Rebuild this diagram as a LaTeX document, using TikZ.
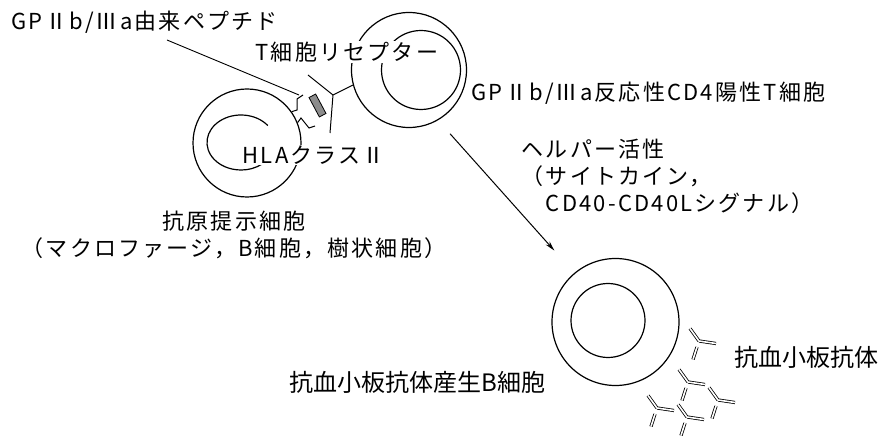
\documentclass[tikz,border=0pt]{standalone}
\usepackage{fontspec}
\setmainfont{Noto Sans CJK JP}
\newfontfamily\widejp[LetterSpace=10]{Noto Sans CJK JP}
\usetikzlibrary{arrows.meta}

\begin{document}
\begin{tikzpicture}[>={Stealth[length=10pt,width=5pt]},x=1pt,y=-1pt,line width=1.2pt]
  \tikzstyle{cellwall}=[draw,circle,inner sep=0pt]
  \tikzstyle{lbl}=[anchor=west,inner sep=1pt,font=\fontsize{22}{27}\selectfont\widejp]
  \tikzstyle{biglbl}=[anchor=west,inner sep=1pt,font=\fontsize{24}{28}\selectfont]
  \tikzstyle{ab}=[double,double distance=1.6pt,line width=0.8pt]
  \useasboundingbox (0,0) rectangle (879,438);

  % cells
  \node[cellwall,minimum size=108pt] (apc) at (247,143) {};
  \draw (241,142.5) ++(38:34pt and 27.5pt)
    arc[start angle=38,end angle=318,x radius=34pt,y radius=27.5pt];
  \node[cellwall,minimum size=115pt] (tcell) at (409,70) {};
  \node[cellwall,minimum size=79pt] (tnuc) at (421,70) {};
  \node[cellwall,minimum size=127pt] (bcell) at (615.5,322) {};
  \node[cellwall,minimum size=74pt] (bnuc) at (608,320.5) {};

  % HLA class II, peptide and T cell receptor
  \draw[line width=1pt] (apc.35) -- (297,110) -- (297,99) -- (303,95);
  \draw[line width=1pt] (apc.22) -- (301,118) -- (309,128) -- (315,126);
  \node[draw,fill=black!45,line width=0.8pt,minimum width=22pt,minimum height=7.5pt,
    inner sep=0pt,rotate=-62] (pep) at (317.5,105.5) {};
  \coordinate (tcrj) at (333,95);
  \draw[line width=1pt] (tcell.195) -- (tcrj) -- (308,75) (tcrj) -- (330,133);

  % antibodies
  \foreach \x/\y in {699/341,688/382,718/400,657/408,687/417}{
    \draw[ab] (\x,\y) -- ++(-9,-12.5);
    \draw[ab] (\x,\y) -- ++(17,2.5);
    \draw[ab] (\x-2,\y+6) -- ++(-4,12.5);
  }

  % labels
  \node[lbl] (peplbl) at (10,22) {GPⅡb/Ⅲa由来ペプチド};
  \coordinate (pepfoot) at (167,40);
  \coordinate (peptip) at (299,95);
  \draw[line width=0.9pt] (pepfoot) -- (peptip);
  \node[lbl,fill=white] (tcrlbl) at (254,52) {T細胞リセプター};
  \node[lbl] (tlbl) at (470,93) {GPⅡb/Ⅲa反応性CD4陽性T細胞};
  \node[lbl,fill=white] (hlalbl) at (241,155) {HLAクラスⅡ};
  \node[lbl,anchor=north west,align=left] (helper) at (520,137)
    {ヘルパー活性\\（サイトカイン，\\　CD40-CD40Lシグナル）};
  \node[lbl,anchor=north,align=center] (apclbl) at (234,209)
    {抗原提示細胞\\（マクロファージ，B細胞，樹状細胞）};
  \node[biglbl] (blbl) at (288,382) {抗血小板抗体産生B細胞};
  \node[biglbl] (ablbl) at (733,357) {抗血小板抗体};

  % helper signal
  \draw[->,line width=1pt,shorten <=18pt,shorten >=30pt] (tcell.-60) -- (bcell.130);
\end{tikzpicture}
\end{document}
